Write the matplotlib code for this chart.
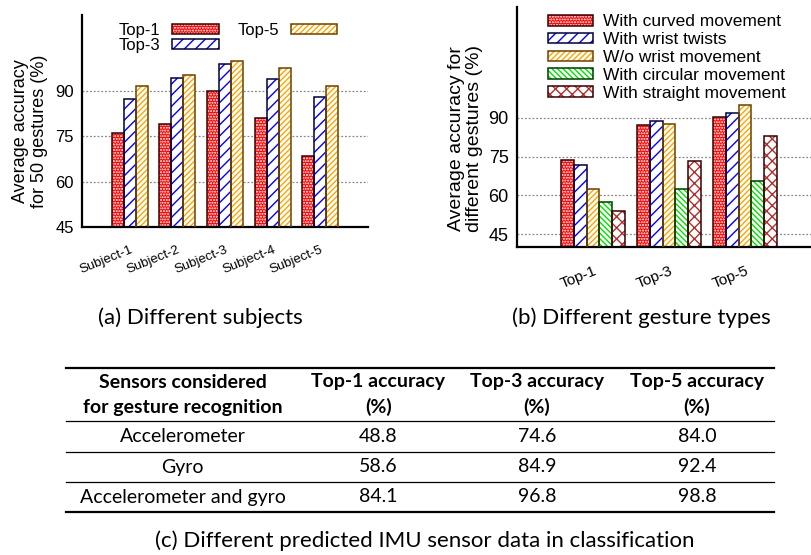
import numpy as np
import matplotlib
matplotlib.use("Agg")
import matplotlib.pyplot as plt
import matplotlib.transforms as mtransforms
from matplotlib.legend_handler import HandlerTuple

# accuracy per subject (50 gestures)
subjects = ["Subject-1", "Subject-2", "Subject-3", "Subject-4", "Subject-5"]
top1_subj = [76.2, 78.9, 89.9, 81.0, 68.3]
top3_subj = [87.2, 94.1, 98.7, 94.0, 88.0]
top5_subj = [91.7, 95.1, 99.9, 97.6, 91.7]

# accuracy per gesture type
topk = ["Top-1", "Top-3", "Top-5"]
curved = [73.7, 87.4, 90.5]
wrist_twist = [71.9, 88.9, 91.8]
no_wrist = [62.3, 87.8, 95.1]
circular = [57.6, 62.5, 65.5]
straight = [54.0, 73.5, 82.9]
gesture_types = ["With curved movement", "With wrist twists", "W/o wrist movement",
                 "With circular movement", "With straight movement"]

# sensor table
table_head_1 = ["Sensors considered", "Top-1 accuracy", "Top-3 accuracy", "Top-5 accuracy"]
table_head_2 = ["for gesture recognition", "(%)", "(%)", "(%)"]
sensors = ["Accelerometer", "Gyro", "Accelerometer and gyro"]
sensor_top1 = [48.8, 58.6, 84.1]
sensor_top3 = [74.6, 84.9, 96.8]
sensor_top5 = [84.0, 92.4, 98.8]

# (face, hatch, hatch colour, outline)
styles = [
    ("#ff0000", "......", "white", "#3a0000"),
    ("white", "///", "#0000ff", "#00003a"),
    ("white", "//////", "#ffa500", "#6b4200"),
    ("white", "\\\\\\\\\\\\", "#00e000", "#003a00"),
    ("white", "xxx", "#b03030", "#3a0000"),
]

plt.rcParams["font.family"] = ["Liberation Sans", "DejaVu Sans"]
plt.rcParams["hatch.linewidth"] = 1.0

fig = plt.figure(figsize=(8.12, 5.55), dpi=100)
overlay = {tuple: HandlerTuple(ndivide=1, pad=0)}


def hatched_bars(ax, x, vals, width, style):
    face, hatch, hcol, edge = style
    b1 = ax.bar(x, vals, width, color=face, hatch=hatch, edgecolor=hcol, lw=0, zorder=2)
    b2 = ax.bar(x, vals, width, fill=False, edgecolor=edge, lw=1.1, zorder=3)
    return (b1, b2)


def style_axes(ax, fs):
    for s in ["top", "right"]:
        ax.spines[s].set_visible(False)
    for s in ["left", "bottom"]:
        ax.spines[s].set_linewidth(1.6)
    ax.set_yticks([45, 60, 75, 90])
    ax.tick_params(axis="both", length=0)
    ax.tick_params(axis="y", labelsize=fs, pad=6)
    ax.yaxis.grid(True, color="#888888", linestyle=(0, (1.5, 1.5)), lw=0.9, zorder=0)
    ax.set_axisbelow(True)


# (a) subjects
ax1 = fig.add_axes([82 / 812, 1 - 227 / 555, 286 / 812, 212 / 555])
x = np.arange(1, len(subjects) + 1)
w = 0.25
h1 = []
for i, vals in enumerate([top1_subj, top3_subj, top5_subj]):
    h1.append(hatched_bars(ax1, x + (i - 1) * w, vals, w, styles[i]))
ax1.set_xlim(0, 6)
ax1.set_ylim(45, 115)
style_axes(ax1, 12)
ax1.set_xticks(x)
ax1.set_xticklabels(subjects, rotation=22, ha="right", rotation_mode="anchor", fontsize=9.5)
ax1.tick_params(axis="x", pad=12)
ax1.set_ylabel("Average accuracy\nfor 50 gestures (%)", fontsize=13, linespacing=1.1)
ax1.yaxis.set_label_coords(-0.12, 0.45)
ax1.legend(h1, topk, ncol=2, markerfirst=False, frameon=False, fontsize=12,
           loc="upper left", bbox_to_anchor=(0.1, 1.0), borderpad=0,
           handlelength=2.8, handleheight=0.55, handletextpad=0.7,
           columnspacing=1.1, labelspacing=0.0, handler_map=overlay)

# (b) gesture types
ax2 = fig.add_axes([517 / 812, 1 - 247 / 555, 295 / 812, 240 / 555])
x2 = np.arange(1, len(topk) + 1)
w2 = 0.168
h2 = []
for i, vals in enumerate([curved, wrist_twist, no_wrist, circular, straight]):
    h2.append(hatched_bars(ax2, x2 + (i - 2) * w2, vals, w2, styles[i]))
ax2.set_xlim(0, 3.88)
ax2.set_ylim(40, 133)
style_axes(ax2, 13)
ax2.set_xticks(x2)
ax2.set_xticklabels(topk, rotation=22, ha="right", rotation_mode="anchor", fontsize=11)
shift = mtransforms.ScaledTranslation(10 / 100, 0, fig.dpi_scale_trans)
for lab in ax2.get_xticklabels():
    lab.set_transform(lab.get_transform() + shift)
ax2.tick_params(axis="x", pad=12)
ax2.set_ylabel("Average accuracy for\ndifferent gestures (%)", fontsize=14, linespacing=1.05)
ax2.yaxis.set_label_coords(-0.115, 0.45)
ax2.legend(h2, gesture_types, frameon=False, fontsize=12.5,
           loc="upper left", bbox_to_anchor=(0.075, 1.005), borderpad=0,
           handlelength=2.6, handleheight=0.55, handletextpad=0.6,
           labelspacing=0.16, handler_map=overlay)

cap_font = ["Lato", "DejaVu Sans"]
fig.text(200 / 812, 1 - 318 / 555, "(a) Different subjects", ha="center", va="center",
         fontsize=16, family=cap_font)
fig.text(641 / 812, 1 - 318 / 555, "(b) Different gesture types", ha="center", va="center",
         fontsize=16, family=cap_font)

# (c) table
axt = fig.add_axes([66 / 812, 1 - 512 / 555, 708 / 812, 144 / 555])
axt.set_xlim(0, 1)
axt.set_ylim(144, 0)
axt.axis("off")
col_x = [0.165, 0.441, 0.665, 0.891]
axt.axhline(0, color="black", lw=1.6, clip_on=False)
axt.axhline(144, color="black", lw=1.6, clip_on=False)
for yy in [53, 84, 114]:
    axt.axhline(yy, color="black", lw=0.9, clip_on=False)
for cx, t1, t2 in zip(col_x, table_head_1, table_head_2):
    axt.text(cx, 14, t1, ha="center", va="center", fontsize=14, weight="bold", family=cap_font)
    axt.text(cx, 39, t2, ha="center", va="center", fontsize=14, weight="bold", family=cap_font)
row_y = [69, 99, 129]
for ry, name, a, b, c in zip(row_y, sensors, sensor_top1, sensor_top3, sensor_top5):
    for cx, txt in zip(col_x, [name, f"{a:.1f}", f"{b:.1f}", f"{c:.1f}"]):
        axt.text(cx, ry, txt, ha="center", va="center", fontsize=14, family=cap_font)

fig.text(425 / 812, 1 - 541 / 555, "(c) Different predicted IMU sensor data in classification",
         ha="center", va="center", fontsize=16, family=cap_font)

fig.savefig("out.png", dpi=100)
